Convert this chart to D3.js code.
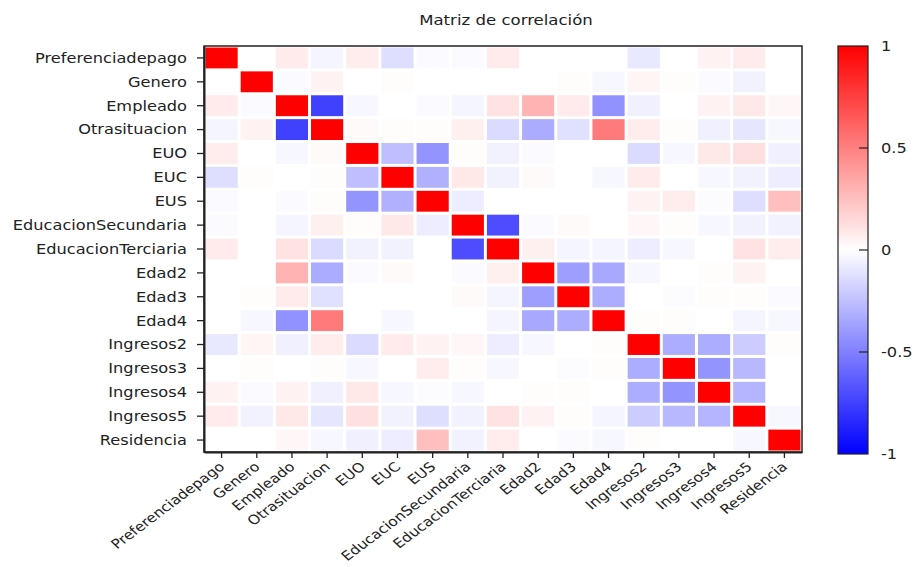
<!DOCTYPE html>
<html>
<head>
<meta charset="utf-8">
<script src="https://cdn.jsdelivr.net/npm/d3@7"></script>
<style>
  html, body { margin: 0; padding: 0; background: #fff; }
  svg text { font-family: "DejaVu Sans", Verdana, sans-serif; fill: #222; }
</style>
</head>
<body>
<svg id="chart" width="914" height="567"></svg>
<script>
const chartTitle = "Matriz de correlación";
const variables = ["Preferenciadepago","Genero","Empleado","Otrasituacion","EUO","EUC","EUS",
  "EducacionSecundaria","EducacionTerciaria","Edad2","Edad3","Edad4",
  "Ingresos2","Ingresos3","Ingresos4","Ingresos5","Residencia"];
const corr = [
  [1, 0, 0.08, -0.04, 0.07, -0.13, -0.02, -0.02, 0.08, 0, 0, 0, -0.09, 0, 0.05, 0.08, 0],
  [0, 1, -0.02, 0.05, 0, 0.01, 0, 0, 0, 0, 0.01, -0.03, 0.04, 0.01, -0.02, -0.05, 0],
  [0.08, -0.02, 1, -0.75, -0.03, 0, -0.02, -0.04, 0.11, 0.3, 0.08, -0.43, -0.06, 0, 0.05, 0.09, 0.03],
  [-0.04, 0.05, -0.75, 1, 0.02, 0.01, 0.01, 0.06, -0.14, -0.33, -0.12, 0.52, 0.07, 0.01, -0.06, -0.1, -0.03],
  [0.07, 0, -0.03, 0.02, 1, -0.25, -0.42, 0.01, -0.05, -0.02, 0, 0, -0.14, -0.03, 0.09, 0.12, -0.06],
  [-0.13, 0.01, 0, 0.01, -0.25, 1, -0.31, 0.09, -0.05, 0.02, 0, -0.03, 0.08, 0, -0.03, -0.05, -0.07],
  [-0.02, 0, -0.02, 0.01, -0.42, -0.31, 1, -0.07, 0, 0, 0, 0, 0.05, 0.07, -0.01, -0.13, 0.25],
  [-0.02, 0, -0.04, 0.06, 0.01, 0.09, -0.07, 1, -0.7, -0.02, 0.02, 0, 0.03, 0.01, -0.03, -0.05, -0.05],
  [0.08, 0, 0.11, -0.14, -0.05, -0.05, 0, -0.7, 1, 0.06, -0.04, -0.04, -0.07, -0.03, 0, 0.11, 0.07],
  [0, 0, 0.3, -0.33, -0.02, 0.02, 0, -0.02, 0.06, 1, -0.38, -0.34, -0.03, 0, 0.01, 0.05, 0],
  [0, 0.01, 0.08, -0.12, 0, 0, 0, 0.02, -0.04, -0.38, 1, -0.32, 0, -0.01, 0.01, 0.01, -0.02],
  [0, -0.03, -0.43, 0.52, 0, -0.03, 0, 0, -0.04, -0.34, -0.32, 1, 0.01, 0.01, 0, -0.04, -0.03],
  [-0.09, 0.04, -0.06, 0.07, -0.14, 0.08, 0.05, 0.03, -0.07, -0.03, 0, 0.01, 1, -0.32, -0.32, -0.2, 0.01],
  [0, 0.01, 0, 0.01, -0.03, 0, 0.07, 0.01, -0.03, 0, -0.01, 0.01, -0.32, 1, -0.42, -0.28, 0],
  [0.05, -0.02, 0.05, -0.06, 0.09, -0.03, -0.01, -0.03, 0, 0.01, 0.01, 0, -0.32, -0.42, 1, -0.29, 0],
  [0.08, -0.05, 0.09, -0.1, 0.12, -0.05, -0.13, -0.05, 0.11, 0.05, 0.01, -0.04, -0.2, -0.28, -0.29, 1, -0.03],
  [0, 0, 0.03, -0.03, -0.06, -0.07, 0.25, -0.05, 0.07, 0, -0.02, -0.03, 0.01, 0, 0, -0.03, 1]
];
const colorbarTicks = [-1, -0.5, 0, 0.5, 1];
const colorbarTickLabels = ["-1", "-0.5", "0", "0.5", "1"];

const svg = d3.select("#chart");
const SX = 1.2;            // horizontal glyph stretch of the original raster
const plot = { left: 204, right: 802, top: 46, bottom: 452 };

const x = d3.scaleBand().domain(variables).range([plot.left, plot.right]).padding(0);
const y = d3.scaleBand().domain(variables).range([plot.top, plot.bottom]).padding(0);
const color = d3.scaleLinear().domain([-1, 0, 1]).range(["#0000ff", "#ffffff", "#ff0000"]);

svg.append("rect").attr("width", 914).attr("height", 567).attr("fill", "#fff");

// title
svg.append("text")
  .attr("transform", `translate(${(plot.left + plot.right) / 2 + 3},25) scale(${SX},1)`)
  .attr("text-anchor", "middle")
  .style("font-size", "13.8px")
  .text(chartTitle);

// cells
const cells = [];
corr.forEach((row, i) => row.forEach((v, j) => cells.push({ r: variables[i], c: variables[j], v })));
const inset = 1.5;
svg.append("g").selectAll("rect").data(cells).join("rect")
  .attr("x", d => x(d.c) + inset)
  .attr("y", d => y(d.r) + inset)
  .attr("width", x.bandwidth() - 2 * inset)
  .attr("height", y.bandwidth() - 2 * inset)
  .attr("fill", d => color(d.v));

// frame
svg.append("rect")
  .attr("x", plot.left).attr("y", plot.top)
  .attr("width", plot.right - plot.left).attr("height", plot.bottom - plot.top)
  .attr("fill", "none").attr("stroke", "#222").attr("stroke-width", 1.5);

// left axis
const yAxis = svg.append("g").attr("transform", `translate(${plot.left},0)`)
  .call(d3.axisLeft(y).tickSize(7).tickSizeOuter(0));
yAxis.select(".domain").attr("stroke", "#222").attr("stroke-width", 2);
yAxis.selectAll(".tick line").attr("stroke", "#222").attr("stroke-width", 1.3);
yAxis.selectAll(".tick text")
  .attr("x", null).attr("dy", "0.36em")
  .attr("transform", `translate(-17,0) scale(${SX},1)`)
  .attr("text-anchor", "end")
  .style("font-size", "13.5px")
  .style("font-family", "'DejaVu Sans', Verdana, sans-serif")
  .attr("fill", "#222");

// bottom axis
const xAxis = svg.append("g").attr("transform", `translate(0,${plot.bottom})`)
  .call(d3.axisBottom(x).tickSize(6).tickSizeOuter(0));
xAxis.select(".domain").attr("stroke", "#222").attr("stroke-width", 2);
xAxis.selectAll(".tick line").attr("stroke", "#222").attr("stroke-width", 1.3);
xAxis.selectAll(".tick text")
  .attr("y", null).attr("dy", null)
  .attr("transform", `translate(4,16) scale(${SX},1) rotate(-42)`)
  .attr("text-anchor", "end")
  .style("font-size", "13px")
  .style("font-family", "'DejaVu Sans', Verdana, sans-serif")
  .attr("fill", "#222");

// colorbar
const cb = { x: 838, w: 30, top: 46, bottom: 454 };
const cbScale = d3.scaleLinear().domain([-1, 1]).range([cb.bottom, cb.top]);
const defs = svg.append("defs");
const grad = defs.append("linearGradient").attr("id", "cbgrad")
  .attr("x1", 0).attr("y1", 1).attr("x2", 0).attr("y2", 0);
d3.range(-1, 1.0001, 0.1).forEach(t => {
  grad.append("stop").attr("offset", (t + 1) / 2).attr("stop-color", color(t));
});
svg.append("rect")
  .attr("x", cb.x).attr("y", cb.top).attr("width", cb.w).attr("height", cb.bottom - cb.top)
  .attr("fill", "url(#cbgrad)").attr("stroke", "#222").attr("stroke-width", 1.2);
const cbG = svg.append("g");
cbG.selectAll("line").data(colorbarTicks.filter(t => Math.abs(t) < 1)).join("line")
  .attr("x1", cb.x + cb.w - 9).attr("x2", cb.x + cb.w)
  .attr("y1", d => cbScale(d)).attr("y2", d => cbScale(d))
  .attr("stroke", "#222").attr("stroke-width", 1.2);
cbG.selectAll("text").data(colorbarTicks).join("text")
  .attr("transform", d => `translate(881,${cbScale(d)}) scale(${SX},1)`)
  .attr("dy", "0.36em")
  .style("font-size", "13.5px")
  .text((d, i) => colorbarTickLabels[i]);
</script>
</body>
</html>
